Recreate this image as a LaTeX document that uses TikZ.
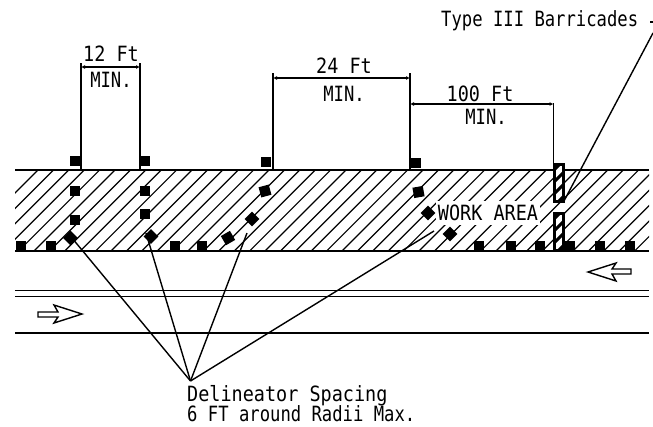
\documentclass[tikz,border=0pt]{standalone}
\usepackage{fontspec}
\setmainfont[FakeStretch=0.82]{DejaVu Sans Mono}
\newfontfamily\widefont[FakeStretch=0.88]{DejaVu Sans Mono}
\usetikzlibrary{arrows.meta}
\tikzset{
    delin/.style={fill=black,inner sep=0pt,minimum size=10.5pt},
    label/.style={font=\fontsize{21}{18}\selectfont,inner sep=0pt},
    widelabel/.style={font=\fontsize{21}{18}\selectfont\widefont,inner sep=0pt},
    dim/.style={line width=1.5pt,{Latex[length=4pt,width=4pt]}-{Latex[length=4pt,width=4pt]}},
    ext/.style={line width=1.6pt},
    leader/.style={line width=1.4pt},
    road/.style={line width=2.8pt},
    barricade/.style={draw,line width=3pt,fill=white}
}
\begin{document}
\begin{tikzpicture}[x=1pt,y=-1pt]
    \useasboundingbox (0,0) rectangle (653,426);
    % hatching of the closed lane
    \begin{scope}
    \clip (15,170) rectangle (649,251);
    \foreach \i in {0,...,45} \draw[line width=1.2pt] ({-43+15.4*\i},251) -- ({38+15.4*\i},170);
    \end{scope}
    \node[widelabel,fill=white,minimum height=24pt,minimum width=104pt] (work) at (488,213) {WORK AREA};
    % road
    \coordinate (topl) at (15,170); \coordinate (topr) at (649,170);
    \coordinate (edgel) at (15,251); \coordinate (edger) at (649,251);
    \coordinate (bottoml) at (15,333); \coordinate (bottomr) at (649,333);
    \coordinate (dbl) at (15,290); \coordinate (dbr) at (649,290);
    \coordinate (dcl) at (15,296.5); \coordinate (dcr) at (649,296.5);
    \draw[line width=2pt] (topl) -- (topr);
    \draw[road] (edgel) -- (edger);
    \draw[road] (bottoml) -- (bottomr);
    \draw[line width=1pt] (dbl) -- (dbr);
    \draw[line width=1pt] (dcl) -- (dcr);
    % traffic arrows
    \draw[line width=1.4pt] (38,312) -- (58,312) -- (54,305) -- (82,314) -- (54,323) -- (58,317) -- (38,317) -- cycle;
    \draw[line width=1.4pt] (631,269) -- (612,269) -- (616,263) -- (588,272) -- (616,281) -- (612,274) -- (631,274) -- cycle;
    % barricades
    \foreach \n/\a/\b in {one/164/201,two/213/250} {
        \node[barricade,minimum width=9pt,minimum height={\b-\a},inner sep=0pt] (\n) at (558.5,{(\a+\b)/2}) {};
        \begin{scope}
        \clip (553,\a) rectangle (564,\b);
        \foreach \k in {-1,...,4} \draw[line width=3pt] (550,{\a+12*\k+10}) -- (567,{\a+12*\k-7});
        \end{scope}
    }
    % delineators
    \foreach \n/\x/\y in {a/75/161,b/145/161,c/266/162,d/416/163,e/75/191,f/145/191,g/75/220,h/145/214,
        i/21/246,j/51/246,k/175/246.5,l/202/246,m/479/246,n/511/246,o/540/246,p/570/246,q/600/246,r/630/246}
        \node[delin] (\n) at (\x,\y) {};
    \foreach \n/\x/\y/\r in {s/70.5/238/45,t/151/236.5/45,u/228/238/30,v/252/219/45,w/265/191/15,x/418.5/192/10,y/428/213/45,z/450/234/45}
        \node[delin,rotate=\r] (\n) at (\x,\y) {};
    % dimensions
    \coordinate (xa) at (81,63); \coordinate (xab) at (81,170);
    \coordinate (xb) at (140,63); \coordinate (xbb) at (140,170);
    \coordinate (xc) at (273,73); \coordinate (xcb) at (273,170);
    \coordinate (xd) at (410,73); \coordinate (xdb) at (410,170);
    \coordinate (xe) at (553.5,103); \coordinate (xeb) at (553.5,163);
    \draw[ext] (xa) -- (xab); \draw[ext] (xb) -- (xbb);
    \draw[ext] (xc) -- (xcb); \draw[ext] (xd) -- (xdb);
    \draw[ext] (xe) -- (xeb);
    \draw[dim] (81,67) -- (140,67);
    \draw[dim] (273,78) -- (410,78);
    \draw[dim] (410,104) -- (553.5,104);
    \node[widelabel] (twelve) at (111,54) {12 Ft};
    \node[label] (mina) at (111,80) {MIN.};
    \node[widelabel] (twentyfour) at (344,66) {24 Ft};
    \node[label] (minb) at (344,94) {MIN.};
    \node[widelabel] (hundred) at (480,94) {100 Ft};
    \node[label] (minc) at (486,117) {MIN.};
    % leaders
    \node[label,anchor=west] (type) at (441,21) {Type III Barricades};
    \coordinate (typeend) at (653,33);
    \coordinate (barend) at (564,201);
    \draw[leader] (typeend) -- (barend);
    \draw[leader] (650,22) -- (653,22);
    \node[widelabel,anchor=west] (spacing) at (187,396) {Delineator Spacing};
    \node[label,anchor=west] (radii) at (187,414) {6 FT around Radii Max.};
    \coordinate (apex) at (190.5,381);
    \coordinate (enda) at (72,238);
    \coordinate (endb) at (146,233);
    \coordinate (endc) at (247,233);
    \coordinate (endd) at (434,231);
    \draw[leader] (apex) -- (enda);
    \draw[leader] (apex) -- (endb);
    \draw[leader] (apex) -- (endc);
    \draw[leader] (apex) -- (endd);
\end{tikzpicture}
\end{document}
